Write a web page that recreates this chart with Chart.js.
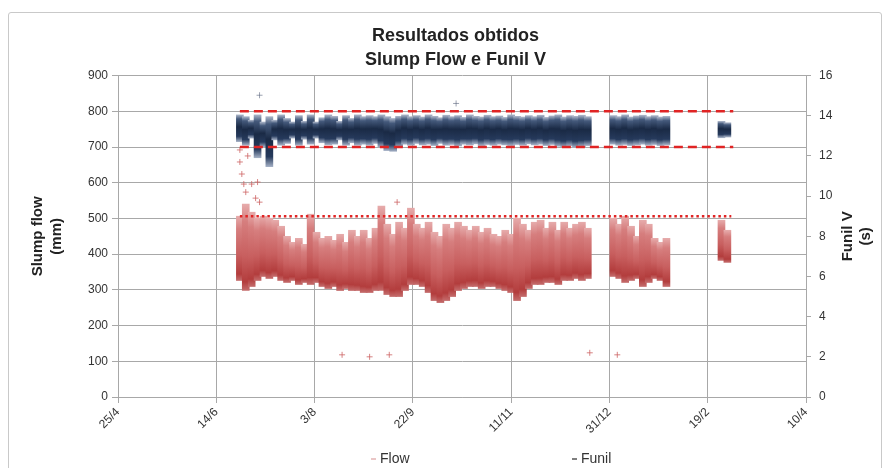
<!DOCTYPE html>
<html>
<head>
<meta charset="utf-8">
<script src="https://cdn.jsdelivr.net/npm/chart.js@4.4.1/dist/chart.umd.min.js"></script>
<style>
  html, body { margin: 0; padding: 0; background: #fff; }
  #wrap { position: relative; width: 887px; height: 468px; overflow: hidden; }
  #frame { position: absolute; left: 8px; top: 12px; width: 872px; height: 470px;
           border: 1px solid #c9c9c9; border-radius: 3px; }
  #chart { position: absolute; left: 0; top: 0; }
</style>
</head>
<body>
<div id="wrap">
  <div id="frame"></div>
  <canvas id="chart" width="887" height="468"></canvas>
</div>
<script>
// x tick labels, one every 50 days starting 25/4
const dayLabels = ['25/4', '14/6', '3/8', '22/9', '11/11', '31/12', '19/2', '10/4'];

// days since 25/4, in 3-day bins
const days = [
  62, 65, 68, 71, 74, 77, 80, 83, 86, 89, 92, 95, 98, 101, 104, 107, 110, 113, 116, 119,
  122, 125, 128, 131, 134, 137, 140, 143, 146, 149, 152, 155, 158, 161, 164, 167, 170, 173, 176, 179,
  182, 185, 188, 191, 194, 197, 200, 203, 206, 209, 212, 215, 218, 221, 224, 227, 230, 233, 236, 239,
  252, 255, 258, 261, 264, 267, 270, 273, 276, 279,
  307, 310
];

// slump flow (mm): range of readings in each bin
const flowHigh = [
  790, 785, 775, 790, 770, 785, 775, 790, 780, 770, 788, 772, 790, 770, 782, 790, 786, 772, 788, 780,
  790, 785, 788, 785, 790, 785, 780, 786, 790, 785, 788, 784, 790, 786, 782, 789, 785, 788, 783, 790,
  786, 784, 789, 785, 787, 783, 790, 786, 784, 788, 785, 789, 783, 787, 790, 784, 788, 786, 789, 785,
  788, 785, 790, 784, 787, 789, 785, 788, 784, 786,
  772, 768
];
const flowLow = [
  715, 705, 725, 670, 700, 645, 720, 705, 710, 725, 705, 722, 708, 725, 712, 706, 708, 720, 705, 712,
  705, 708, 705, 710, 700, 690, 688, 700, 708, 705, 710, 706, 708, 704, 710, 705, 707, 703, 708, 706,
  709, 704, 707, 705, 708, 706, 704, 707, 705, 709, 706, 708, 704, 707, 702, 700, 703, 699, 701, 704,
  708, 705, 707, 704, 706, 708, 705, 707, 704, 706,
  726, 728
];

// funil V (s): range of readings in each bin
const funilHigh = [
  9.0, 9.6, 9.2, 8.9, 9.0, 8.9, 8.8, 8.5, 8.0, 7.7, 7.9, 7.6, 9.1, 8.2, 7.9, 8.0, 7.8, 8.1, 7.7, 8.3,
  8.0, 8.3, 7.9, 8.4, 9.5, 8.6, 8.1, 8.7, 8.4, 9.4, 8.6, 8.4, 8.7, 8.2, 8.0, 8.6, 8.4, 8.7, 8.5, 8.3,
  8.5, 8.2, 8.4, 8.1, 8.0, 8.3, 8.1, 8.9, 8.6, 8.3, 8.7, 8.8, 8.4, 8.7, 8.3, 8.7, 8.4, 8.6, 8.7, 8.4,
  8.9, 8.6, 9.0, 8.5, 8.0, 8.8, 8.6, 7.9, 7.7, 7.9,
  8.8, 8.3
];
const funilLow = [
  5.8, 5.3, 5.5, 5.8, 6.0, 5.9, 6.0, 5.8, 5.7, 5.8, 5.6, 5.7, 5.6, 5.7, 5.5, 5.4, 5.5, 5.3, 5.4, 5.3,
  5.3, 5.2, 5.2, 5.3, 5.3, 5.1, 5.0, 5.0, 5.3, 5.6, 5.6, 5.5, 5.2, 4.8, 4.7, 4.8, 5.0, 5.3, 5.4, 5.5,
  5.5, 5.4, 5.5, 5.5, 5.4, 5.3, 5.2, 4.8, 5.0, 5.4, 5.6, 5.6, 5.7, 5.7, 5.6, 5.8, 5.8, 5.9, 5.8, 5.9,
  6.0, 5.9, 5.7, 5.8, 5.9, 5.5, 5.7, 5.9, 5.8, 5.5,
  6.8, 6.7
];

// isolated readings outside the bands
const flowOutDays = [72, 172];
const flowOutVals = [845, 822];
const funilOutDays = [62, 62, 63, 64, 65, 66, 68, 70, 71, 72, 142, 114, 128, 138, 240, 254];
const funilOutVals = [12.3, 11.7, 11.1, 10.6, 10.2, 12.0, 10.6, 9.9, 10.7, 9.7, 9.7, 2.1, 2.0, 2.1, 2.2, 2.1];

// specification limits
const flowLimitDays = [62, 313];
const flowMin = 700;
const flowMax = 800;
const funilLimitDays = [62, 312];
const funilMax = 9;

const GRID = '#a8a8a8';
const LIMIT_RED = '#e02424';
const FONT = '"Liberation Sans", Arial, sans-serif';

// each bar fades towards its ends, like a cloud of points
function barGradient(ctx, scaleId, stops, fallback) {
  const chart = ctx.chart;
  if (!chart.chartArea || ctx.type !== 'data' || !ctx.raw) return fallback;
  const s = chart.scales[scaleId];
  const [lo, hi] = ctx.raw.y;
  const g = chart.ctx.createLinearGradient(0, s.getPixelForValue(hi), 0, s.getPixelForValue(lo));
  stops.forEach(([t, c]) => g.addColorStop(t, c));
  return g;
}

const flowStops = [
  [0, '#aab4c7'],
  [0.15, '#44597b'],
  [0.45, '#1a2a45'],
  [0.8, '#263a5c'],
  [1, '#a3afc4']
];
const funilStops = [
  [0, '#e6abab'],
  [0.2, '#d67e7e'],
  [0.6, '#c85f5f'],
  [0.9, '#b33d3d'],
  [1, '#c46c6c']
];

// soften the bands, the original is a dense cloud of small markers
const soften = {
  id: 'soften',
  beforeDatasetDraw(chart, args) {
    if (args.meta.type !== 'bar') return;
    chart.ctx.save();
    chart.ctx.filter = 'blur(0.6px)';
  },
  afterDatasetDraw(chart, args) {
    if (args.meta.type !== 'bar') return;
    chart.ctx.restore();
  }
};

// right axis title (reads bottom-to-top) and the bottom legend
const extras = {
  id: 'extras',
  afterDraw(chart) {
    const {ctx, chartArea} = chart;
    const midY = (chartArea.top + chartArea.bottom) / 2;
    ctx.save();
    ctx.fillStyle = '#222';
    ctx.font = 'bold 15px ' + FONT;
    ctx.textAlign = 'center';
    ctx.textBaseline = 'middle';
    [['Funil V', 42], ['(s)', 60]].forEach(([t, dx]) => {
      ctx.save();
      ctx.translate(chartArea.right + dx, midY);
      ctx.rotate(-Math.PI / 2);
      ctx.fillText(t, 0, 0);
      ctx.restore();
    });

    ctx.font = '14px ' + FONT;
    ctx.textAlign = 'left';
    ctx.fillStyle = '#333';
    const ly = 459;
    ctx.strokeStyle = '#e3b3b3';
    ctx.lineWidth = 1.5;
    ctx.beginPath();
    ctx.moveTo(371, ly); ctx.lineTo(376, ly);
    ctx.stroke();
    ctx.fillText('Flow', 380, ly);
    ctx.strokeStyle = '#555';
    ctx.beginPath();
    ctx.moveTo(572, ly); ctx.lineTo(577, ly);
    ctx.stroke();
    ctx.fillText('Funil', 581, ly);
    ctx.restore();
  }
};

const ctx = document.getElementById('chart').getContext('2d');
new Chart(ctx, {
  type: 'bar',
  data: {
    datasets: [
      {
        label: 'Flow',
        data: days.map((d, i) => ({x: d, y: [flowLow[i], flowHigh[i]]})),
        yAxisID: 'y',
        backgroundColor: c => barGradient(c, 'y', flowStops, '#263a5c'),
        borderWidth: 0,
        barThickness: 7,
        grouped: false,
        order: 3
      },
      {
        label: 'Funil',
        data: days.map((d, i) => ({x: d, y: [funilLow[i], funilHigh[i]]})),
        yAxisID: 'y1',
        backgroundColor: c => barGradient(c, 'y1', funilStops, '#c85f5f'),
        borderWidth: 0,
        barThickness: 7,
        grouped: false,
        order: 3
      },
      {
        type: 'scatter',
        label: 'Flow isolado',
        data: flowOutDays.map((d, i) => ({x: d, y: flowOutVals[i]})),
        yAxisID: 'y',
        pointStyle: 'cross',
        pointRadius: 3,
        borderWidth: 1,
        borderColor: 'rgba(90,100,125,0.6)',
        order: 2
      },
      {
        type: 'scatter',
        label: 'Funil isolado',
        data: funilOutDays.map((d, i) => ({x: d, y: funilOutVals[i]})),
        yAxisID: 'y1',
        pointStyle: 'cross',
        pointRadius: 3,
        borderWidth: 1,
        borderColor: 'rgba(205,100,100,0.8)',
        order: 2
      },
      {
        type: 'line',
        label: 'Flow max',
        data: flowLimitDays.map(d => ({x: d, y: flowMax})),
        yAxisID: 'y',
        borderColor: LIMIT_RED,
        borderWidth: 2.5,
        borderDash: [9, 5],
        pointRadius: 0,
        order: 0
      },
      {
        type: 'line',
        label: 'Flow min',
        data: flowLimitDays.map(d => ({x: d, y: flowMin})),
        yAxisID: 'y',
        borderColor: LIMIT_RED,
        borderWidth: 2.5,
        borderDash: [9, 5],
        pointRadius: 0,
        order: 0
      },
      {
        type: 'line',
        label: 'Funil max',
        data: funilLimitDays.map(d => ({x: d, y: funilMax})),
        yAxisID: 'y1',
        borderColor: LIMIT_RED,
        borderWidth: 2.5,
        borderDash: [2.5, 3],
        pointRadius: 0,
        order: 0
      }
    ]
  },
  options: {
    responsive: false,
    animation: false,
    devicePixelRatio: 1,
    layout: {padding: {left: 24, right: 0, top: 12, bottom: 21}},
    plugins: {
      legend: {display: false},
      tooltip: {enabled: false},
      title: {
        display: true,
        text: ['Resultados obtidos', 'Slump Flow e Funil V'],
        color: '#222',
        font: {family: FONT, size: 18, weight: 'bold', lineHeight: 1.35},
        padding: {top: 12, bottom: 3}
      }
    },
    scales: {
      x: {
        type: 'linear',
        min: 0,
        max: 350,
        offset: false,
        grid: {color: GRID, offset: false, tickLength: 6},
        border: {color: GRID},
        ticks: {
          stepSize: 50,
          autoSkip: false,
          minRotation: 45,
          maxRotation: 45,
          padding: 2,
          color: '#333',
          font: {family: FONT, size: 12},
          callback: v => dayLabels[Math.round(v / 50)]
        },
        afterFit: s => { s.height = 50; }
      },
      y: {
        position: 'left',
        min: 0,
        max: 900,
        grid: {color: GRID, tickLength: 6},
        border: {color: GRID},
        ticks: {
          stepSize: 100,
          padding: 4,
          color: '#333',
          font: {family: FONT, size: 12}
        },
        title: {
          display: true,
          text: ['Slump flow', '(mm)'],
          color: '#222',
          font: {family: FONT, size: 15, weight: 'bold', lineHeight: 1.3},
          padding: {top: 4, bottom: 0}
        },
        afterFit: s => { s.width = 94; }
      },
      y1: {
        position: 'right',
        min: 0,
        max: 16,
        grid: {drawOnChartArea: false, color: GRID, tickLength: 5},
        border: {color: GRID},
        ticks: {
          stepSize: 2,
          padding: 8,
          color: '#333',
          font: {family: FONT, size: 12}
        },
        afterFit: s => { s.width = 81; }
      }
    }
  },
  plugins: [soften, extras]
});
</script>
</body>
</html>
